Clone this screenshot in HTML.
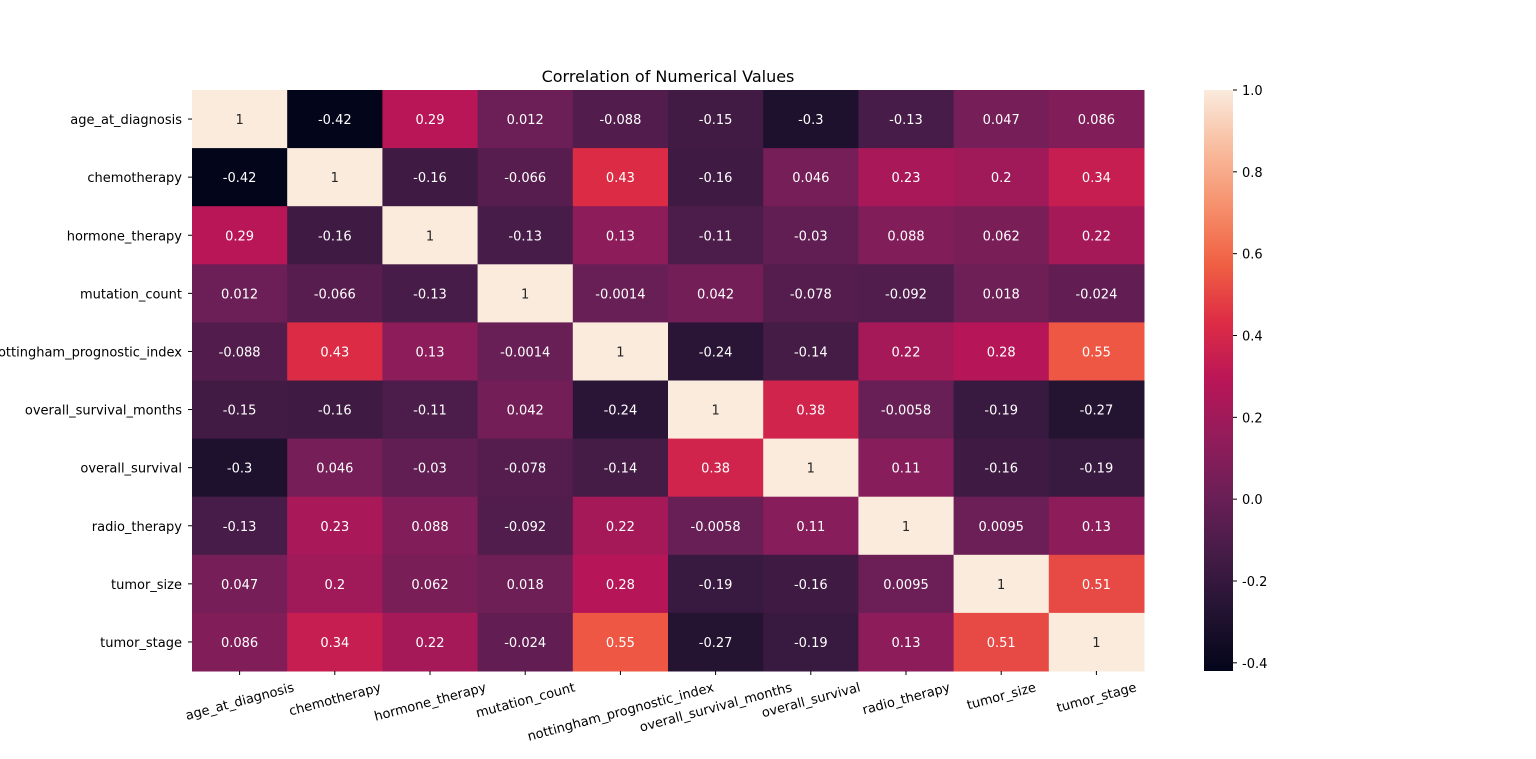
<!DOCTYPE html>
<html><head><meta charset="utf-8"><style>
body{margin:0;background:#fff;font-family:"Liberation Sans","DejaVu Sans",sans-serif;}
svg text{font-family:"DejaVu Sans","Liberation Sans",sans-serif;}
</style></head><body>
<svg id="chart" width="1536" height="754" xmlns="http://www.w3.org/2000/svg">
<defs><linearGradient id="cbg" x1="0" y1="1" x2="0" y2="0">
<stop offset="0" stop-color="#03051A"/><stop offset="0.1" stop-color="#221331"/><stop offset="0.2" stop-color="#451C47"/><stop offset="0.3" stop-color="#6A1F56"/><stop offset="0.4" stop-color="#921C5B"/><stop offset="0.5" stop-color="#B91657"/><stop offset="0.6" stop-color="#DD2C45"/><stop offset="0.7" stop-color="#F06043"/><stop offset="0.8" stop-color="#F6906C"/><stop offset="0.9" stop-color="#F8BC9E"/><stop offset="1" stop-color="#FAEBDD"/></linearGradient></defs>
<text x="668" y="82" text-anchor="middle" font-size="16">Correlation of Numerical Values</text>
<g id="cells"></g>
<rect x="1204" y="90" width="29" height="581" fill="url(#cbg)"/>
<g id="cb"></g>
</svg>
<script>
const labels=["age_at_diagnosis","chemotherapy","hormone_therapy","mutation_count","nottingham_prognostic_index","overall_survival_months","overall_survival","radio_therapy","tumor_size","tumor_stage"];
const rowsText=[
["1","-0.42","0.29","0.012","-0.088","-0.15","-0.3","-0.13","0.047","0.086"],
["-0.42","1","-0.16","-0.066","0.43","-0.16","0.046","0.23","0.2","0.34"],
["0.29","-0.16","1","-0.13","0.13","-0.11","-0.03","0.088","0.062","0.22"],
["0.012","-0.066","-0.13","1","-0.0014","0.042","-0.078","-0.092","0.018","-0.024"],
["-0.088","0.43","0.13","-0.0014","1","-0.24","-0.14","0.22","0.28","0.55"],
["-0.15","-0.16","-0.11","0.042","-0.24","1","0.38","-0.0058","-0.19","-0.27"],
["-0.3","0.046","-0.03","-0.078","-0.14","0.38","1","0.11","-0.16","-0.19"],
["-0.13","0.23","0.088","-0.092","0.22","-0.0058","0.11","1","0.0095","0.13"],
["0.047","0.2","0.062","0.018","0.28","-0.19","-0.16","0.0095","1","0.51"],
["0.086","0.34","0.22","-0.024","0.55","-0.27","-0.19","0.13","0.51","1"]];
const cbTicks=[-0.4,-0.2,0.0,0.2,0.4,0.6,0.8,1.0];
const vmin=-0.42,vmax=1;
const stops=["#03051A","#221331","#451C47","#6A1F56","#921C5B","#B91657","#DD2C45","#F06043","#F6906C","#F8BC9E","#FAEBDD"];
function hex(h){return [1,3,5].map(i=>parseInt(h.substr(i,2),16));}
function color(v){let t=Math.max(0,Math.min(1,(v-vmin)/(vmax-vmin)))*10;let i=Math.min(9,Math.floor(t)),f=t-i;const a=hex(stops[i]),b=hex(stops[i+1]);return "rgb("+a.map((x,k)=>Math.round(x+(b[k]-x)*f)).join(",")+")";}
const X0=192,X1=1144,Y0=90,Y1=671,n=labels.length,cw=(X1-X0)/n,ch=(Y1-Y0)/n;
const NS="http://www.w3.org/2000/svg";
function el(t,a,p,txt){const e=document.createElementNS(NS,t);for(const k in a)e.setAttribute(k,a[k]);if(txt!==undefined)e.textContent=txt;p.appendChild(e);return e;}
const g=document.getElementById("cells"),svg=document.getElementById("chart");
rowsText.forEach((row,r)=>{row.forEach((s,c)=>{const v=parseFloat(s);
const rc=el("rect",{x:X0+c*cw,y:Y0+r*ch,width:cw+0.5,height:ch+0.5,fill:color(v)},g);


const tx=el("text",{x:X0+(c+0.5)*cw,y:Y0+(r+0.5)*ch+5,"text-anchor":"middle","font-size":"13",fill:v>0.7?"#262626":"#fff"},g,s);

});});
const s15=Math.sin(15*Math.PI/180),c15=Math.cos(15*Math.PI/180);
labels.forEach((l,i)=>{const y=Y0+(i+0.5)*ch;
el("line",{x1:X0-4,x2:X0,y1:y,y2:y,stroke:"#000"},svg);
const t=el("text",{x:X0-10,y:y+5,"text-anchor":"end","font-size":"13"},svg,l);


const x=X0+(i+0.5)*cw;
el("line",{x1:x,x2:x,y1:Y1,y2:Y1+4,stroke:"#000"},svg);
const xt=el("text",{x:x,y:0,"text-anchor":"middle","font-size":"13"},svg,l);


const w=xt.getComputedTextLength(),h=15;
const cy=Y1+8+(w/2)*s15+(h/2)*c15;
xt.setAttribute('y',cy+5);
xt.setAttribute('transform',`rotate(-15 ${x} ${cy})`);});
const cb=document.getElementById("cb");
cbTicks.forEach(v=>{const y=Y1-(v-vmin)/(vmax-vmin)*(Y1-Y0);
el("line",{x1:1233,x2:1237,y1:y,y2:y,stroke:"#000"},cb);
const t=el("text",{x:1242,y:y+5,"font-size":"13"},cb,v.toFixed(1));

});
</script>
</body></html>
